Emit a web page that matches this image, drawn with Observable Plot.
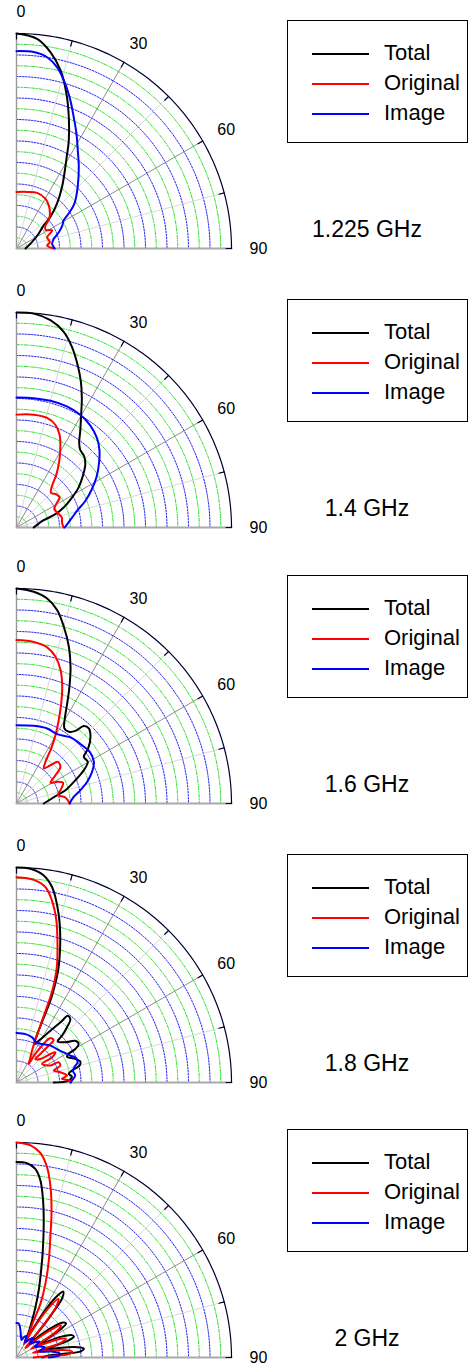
<!DOCTYPE html>
<html><head><meta charset="utf-8">
<script src="https://cdn.jsdelivr.net/npm/d3@7"></script>
<script src="https://cdn.jsdelivr.net/npm/@observablehq/plot@0.6"></script>
<style>
body{margin:0;background:#fff;font-family:"Liberation Sans",Arial,sans-serif;}
.panel{position:relative;width:470px;}
.panel svg{position:absolute;left:0;top:0;overflow:visible;}
.legend{position:absolute;left:287px;width:181px;height:123px;border:1px solid #000;box-sizing:border-box;background:#fff;}
.legend .ln{position:absolute;left:24px;width:57px;height:2px;}
.legend .tx{position:absolute;left:96px;font-size:22px;line-height:26px;color:#000;}
.freq{position:absolute;left:267px;width:200px;text-align:center;font-size:23px;line-height:26px;color:#000;}
</style></head><body><div id="chart"></div><script>
// ---- data: [angle in degrees from broadside, normalized magnitude] ----
const frequencies = ["1.225 GHz", "1.4 GHz", "1.6 GHz", "1.8 GHz", "2 GHz"];
const seriesNames = ["Total", "Original", "Image"];
const seriesColors = ["#000000", "#ff0000", "#0000ff"];
const angleTicks = [0, 30, 60, 90];

const total1225 = [[0,1.0],[5.6,0.98],[9.8,0.927],[13.9,0.853],[17.9,0.756],[21.7,0.658],[25.8,0.559],[29,0.48],[32.5,0.415],[36.5,0.356],[42,0.282],[47,0.216],[49.5,0.167],[56,0.125],[67,0.079],[90,0.042]];
const original1225 = [[0,0.263],[10.7,0.268],[20.4,0.276],[30.1,0.268],[37,0.25],[43,0.228],[48,0.205],[51.6,0.172],[57,0.16],[63.2,0.186],[69.8,0.152],[79.3,0.158],[84.4,0.143],[90,0.173]];
const image1225 = [[0,0.918],[5,0.917],[9.1,0.901],[12.6,0.864],[16.5,0.799],[20,0.733],[23.5,0.667],[27.6,0.602],[32,0.538],[37.4,0.477],[44.8,0.404],[52.2,0.341],[56.2,0.292],[59.1,0.256],[63.5,0.238],[69,0.211],[75.4,0.179],[82.5,0.167],[90,0.178]];

const total14 = [[0,1.0],[4.6,0.998],[9.3,0.977],[13.5,0.937],[17,0.88],[20.6,0.808],[23.8,0.742],[26.8,0.674],[29.8,0.605],[33.5,0.537],[36.5,0.49],[39.2,0.468],[43.5,0.457],[47.5,0.434],[52.2,0.39],[57.3,0.343],[61.7,0.293],[67.1,0.238],[71.1,0.191],[75,0.131],[80,0.105],[90,0.08]];
const original14 = [[0,0.525],[8.7,0.531],[15.6,0.529],[20.7,0.511],[24.9,0.476],[28.8,0.423],[32.8,0.367],[36.9,0.309],[40.6,0.254],[44.7,0.228],[50.2,0.241],[55.3,0.244],[58.4,0.221],[64.2,0.195],[71.7,0.206],[77.6,0.216],[83.8,0.213],[90,0.219]];
const image14 = [[0,0.605],[7.6,0.607],[15,0.61],[22.6,0.61],[29.5,0.602],[35.8,0.586],[41.9,0.56],[46.8,0.529],[51.9,0.488],[57.4,0.443],[63.1,0.393],[68.9,0.343],[74.2,0.295],[81.3,0.256],[90,0.224]];

const total16 = [[0,1.0],[4.7,0.988],[8.5,0.964],[11.9,0.919],[15,0.851],[18.5,0.768],[21.6,0.683],[24.4,0.596],[26.9,0.521],[29.6,0.455],[32.6,0.414],[36.1,0.413],[39.1,0.435],[41,0.477],[43.9,0.485],[48,0.463],[52.5,0.42],[55.3,0.381],[59.7,0.384],[63.7,0.349],[68.4,0.295],[74.8,0.236],[79.4,0.185],[90,0.127]];
const original16 = [[0,0.76],[6.1,0.756],[11.1,0.74],[14.9,0.706],[18.3,0.653],[21.4,0.583],[24.1,0.509],[26.9,0.434],[29.7,0.366],[32.2,0.302],[34.8,0.236],[38,0.207],[41.6,0.238],[44.8,0.273],[50.2,0.266],[54,0.224],[58.7,0.185],[62.3,0.217],[66.1,0.237],[73.1,0.214],[78.6,0.196],[83,0.229],[90,0.248]];
const image16 = [[0,0.364],[12.6,0.37],[22.2,0.377],[30.4,0.374],[39.3,0.397],[48.4,0.408],[54.8,0.417],[61.7,0.409],[67.3,0.381],[72.9,0.344],[78.2,0.304],[84,0.265],[90,0.247]];

const total18 = [[0,1.0],[3.7,0.996],[7.5,0.971],[10.3,0.924],[12.7,0.853],[15.2,0.766],[17.8,0.664],[20.3,0.56],[22,0.455],[22.5,0.411],[22.8,0.328],[23.3,0.245],[24.5,0.196],[28,0.22],[33.2,0.288],[36.4,0.356],[37.5,0.391],[40.3,0.387],[42.5,0.347],[44.2,0.303],[45,0.271],[50.5,0.294],[54.6,0.335],[58.2,0.34],[60.3,0.315],[61.3,0.276],[62.8,0.264],[68.1,0.294],[71.6,0.312],[75,0.304],[77.8,0.264],[80.6,0.246],[83.8,0.259],[87.8,0.242],[90,0.173]];
const original18 = [[0,0.955],[4.9,0.946],[8.4,0.919],[11,0.863],[13.8,0.777],[16.4,0.675],[19.2,0.571],[21.2,0.466],[21.8,0.405],[22.5,0.308],[24.5,0.196],[28,0.14],[31.2,0.119],[33.5,0.104],[33.2,0.149],[34.7,0.208],[37.3,0.26],[41.2,0.262],[41.1,0.227],[39.9,0.173],[38.8,0.14],[45.4,0.156],[49.9,0.206],[52.1,0.229],[54.6,0.203],[54,0.147],[63.4,0.176],[64.3,0.217],[68.9,0.218],[72.2,0.182],[76.8,0.209],[82.1,0.237],[85.4,0.212],[87.9,0.25],[90,0.25]];
const image18 = [[0,0.23],[10.5,0.229],[19.1,0.222],[26.4,0.208],[33.6,0.215],[42.6,0.233],[50.4,0.244],[57.4,0.26],[63.4,0.28],[67.6,0.3],[71.7,0.299],[75.2,0.278],[78.7,0.268],[83.2,0.275],[88,0.258],[90,0.253]];

const total20 = [[0,0.909],[3.1,0.905],[5.7,0.882],[7.7,0.831],[9.6,0.741],[11.5,0.635],[13.8,0.513],[15.8,0.421],[18.3,0.329],[20.6,0.251],[22.8,0.188],[25.7,0.132],[28,0.08],[29.5,0.14],[31,0.24],[33,0.33],[35.3,0.376],[37.5,0.35],[39,0.27],[40.5,0.17],[42.5,0.08],[46,0.13],[49.5,0.21],[53,0.27],[55.5,0.28],[57.5,0.24],[58.5,0.17],[59.5,0.1],[61.5,0.14],[65,0.23],[68,0.278],[70,0.284],[72,0.25],[73,0.17],[74,0.11],[76,0.16],[79.5,0.27],[82.5,0.316],[84.5,0.3],[85.5,0.22],[86.5,0.15],[90,0.12]];
const original20 = [[0,1.0],[3.8,0.989],[6.7,0.957],[9.1,0.897],[11.3,0.808],[13.4,0.703],[15.7,0.582],[18.4,0.476],[21.4,0.369],[24,0.274],[24.9,0.191],[27.2,0.125],[29,0.07],[30.5,0.15],[32.5,0.26],[35.5,0.335],[38,0.3],[39.5,0.2],[41,0.1],[43.5,0.06],[47,0.11],[51,0.2],[54,0.255],[56.5,0.23],[58,0.15],[59,0.08],[62,0.11],[66,0.2],[69,0.245],[71.5,0.22],[72.5,0.14],[74,0.08],[77,0.13],[81,0.22],[84.5,0.262],[86.5,0.24],[87.5,0.16],[88.5,0.1],[90,0.08]];
const image20 = [[0,0.16],[4,0.158],[8,0.13],[12,0.1],[16,0.085],[20,0.1],[25,0.11],[30,0.08],[35,0.1],[40,0.12],[45,0.09],[50,0.11],[55,0.13],[60,0.1],[65,0.12],[70,0.14],[75,0.11],[80,0.16],[84,0.2],[87,0.2],[90,0.15]];

const panelSeries = [
  [total1225, original1225, image1225],
  [total14, original14, image14],
  [total16, original16, image16],
  [total18, original18, image18],
  [total20, original20, image20]
];

// ---- layout ----
const panelHeights = [279, 276, 279, 275, 256];
const CX = 16, CY = 248, R = 215;
const DEG = Math.PI / 180;
const px = d => d[1] * Math.sin(d[0] * DEG);
const py = d => d[1] * Math.cos(d[0] * DEG);
const arc = r => d3.range(0, 90.5, 1).map(a => [a, r]);

function gridMarks() {
  const marks = [];
  for (let k = 1; k < 20; k++) {
    const odd = k % 2 === 1;
    marks.push(Plot.line(arc(k / 20), {x: px, y: py, stroke: odd ? "#22dd22" : "#1010f0",
      strokeWidth: 0.95, strokeDasharray: odd ? "3.5,1.5,1,1.5" : "1.6,1.4"}));
  }
  const spoke = (a, stroke, w, dash) => Plot.line([[a, 0], [a, 1]], {x: px, y: py, stroke, strokeWidth: w, strokeDasharray: dash});
  marks.push(spoke(15, "#cfcfcf", 0.8), spoke(45, "#cfcfcf", 0.8), spoke(75, "#cfcfcf", 0.8));
  marks.push(spoke(30, "#808080", 0.9), spoke(60, "#808080", 0.9));
  marks.push(spoke(0, "#999999", 1.4), spoke(90, "#aaaaaa", 2));
  marks.push(Plot.line(arc(1), {x: px, y: py, stroke: "#000033", strokeWidth: 1.2}));
  const ticks = d3.range(0, 91, 15);
  for (const a of ticks) {
    marks.push(Plot.line([[a, 0.975], [a, 1]], {x: px, y: py, stroke: "#000033", strokeWidth: 1.2}));
  }
  return marks;
}

const root = document.getElementById("chart");
panelSeries.forEach((series, i) => {
  const h = panelHeights[i];
  const div = document.createElement("div");
  div.className = "panel";
  div.style.height = h + "px";
  const marks = gridMarks();
  series.forEach((data, s) => {
    marks.push(Plot.line(data, {x: px, y: py, stroke: seriesColors[s], strokeWidth: 2, curve: "catmull-rom"}));
  });
  marks.push(Plot.text(angleTicks.filter(a => a === 0), {x: a => 1.1 * Math.sin(a * DEG), y: a => 1.1 * Math.cos(a * DEG), text: a => String(a), fontSize: 16, fill: "#000", textAnchor: "start"}));
  marks.push(Plot.text(angleTicks.filter(a => a !== 0), {x: a => 1.115 * Math.sin(a * DEG) + 0.01, y: a => 1.1 * Math.cos(a * DEG), text: a => String(a), fontSize: 16, fill: "#000", textAnchor: "middle"}));
  const svg = Plot.plot({
    width: 470, height: h, margin: 0,
    x: {type: "linear", domain: [0, 1], range: [CX, CX + R], axis: null},
    y: {type: "linear", domain: [0, 1], range: [CY, CY - R], axis: null},
    style: {background: "transparent", fontFamily: "'Liberation Sans', Arial, sans-serif", overflow: "visible"},
    marks
  });
  div.appendChild(svg);
  // legend
  const lg = document.createElement("div");
  lg.className = "legend";
  lg.style.top = (CY - 228) + "px";
  seriesNames.forEach((name, s) => {
    const rowY = 33 + s * 30;
    const ln = document.createElement("div");
    ln.className = "ln"; ln.style.top = (rowY - 1) + "px"; ln.style.background = seriesColors[s];
    const tx = document.createElement("div");
    tx.className = "tx"; tx.style.top = (rowY - 14) + "px"; tx.textContent = name;
    lg.appendChild(ln); lg.appendChild(tx);
  });
  div.appendChild(lg);
  const fq = document.createElement("div");
  fq.className = "freq";
  fq.style.top = (CY - 19 - 13) + "px";
  fq.textContent = frequencies[i];
  div.appendChild(fq);
  root.appendChild(div);
});
</script></body></html>
